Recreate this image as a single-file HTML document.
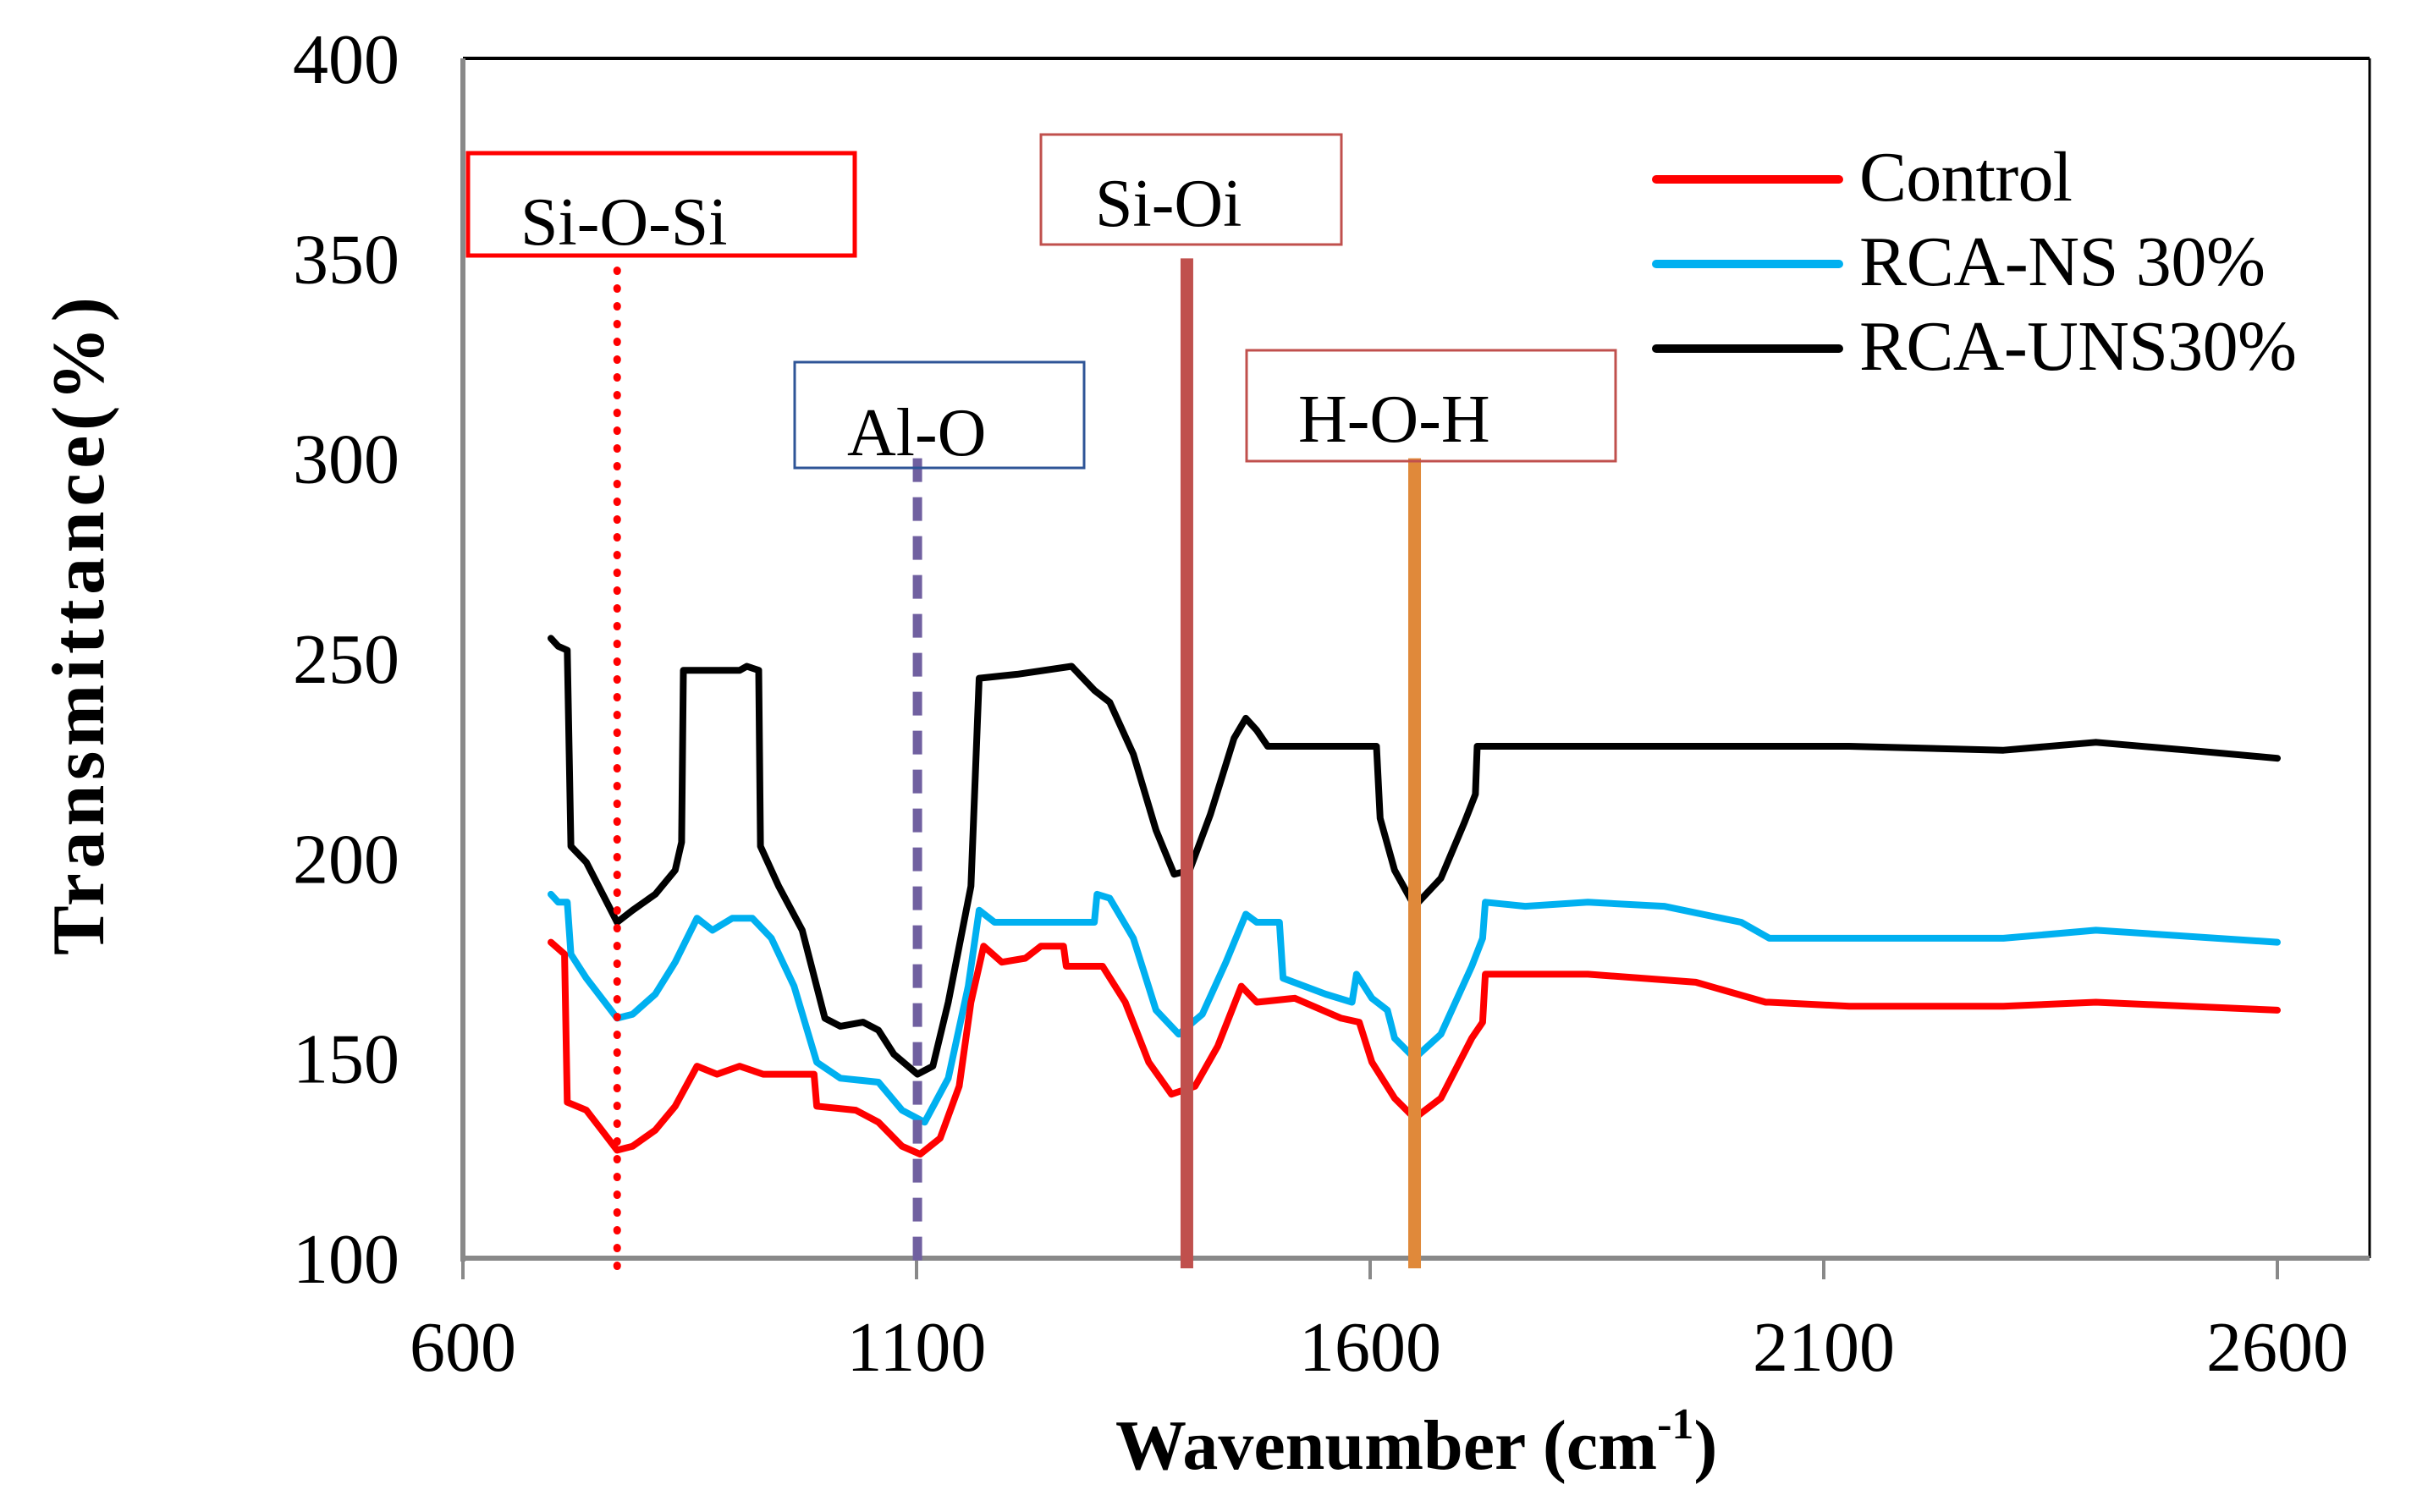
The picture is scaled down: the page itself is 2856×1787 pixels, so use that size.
<!DOCTYPE html>
<html><head><meta charset="utf-8"><style>
html,body{margin:0;padding:0;background:#fff;}
svg{display:block;font-family:"Liberation Serif",serif;}
</style></head><body>
<svg id="chart" width="2856" height="1787" viewBox="0 0 2856 1787">
<g id="plot"></g>
</svg>
<script>
const xTicks=[600,1100,1600,2100,2600];
const yTicks=[100,150,200,250,300,350,400];
const seriesNames=["Control","RCA-NS 30%","RCA-UNS30%"];
const seriesColors=["#FF0000","#00B0F0","#000000"];
const uns_x=[697,705,715,719,736,770,787,812,834,841,843,905,913,926,928,948,974,999,1016,1041,1058,1075,1101,1118,1135,1160,1169,1211,1271,1296,1313,1339,1364,1384,1401,1424,1450,1463,1475,1487,1568,1607,1611,1627,1649,1678,1704,1716,1718,1789,1959,2128,2298,2400,2502,2600];
const uns_y=[255,253,252,203,199,184,187,191,197,204,247,247,248,247,203,193,182,160,158,159,157,151,146,148,164,193,245,246,248,242,239,226,207,196,197,211,230,235,232,228,228,228,210,197,188,195,209,216,228,228,228,228,227,229,227,225];
const ns_x=[697,705,715,719,736,770,787,812,834,858,875,897,919,940,965,990,1016,1058,1084,1109,1135,1157,1169,1186,1296,1299,1313,1339,1364,1389,1415,1441,1463,1475,1500,1504,1551,1580,1585,1602,1619,1627,1649,1678,1712,1724,1727,1771,1840,1924,2009,2040,2128,2298,2400,2600];
const ns_y=[191,189,189,176,170,160,161,166,174,185,182,185,185,180,168,149,145,144,137,134,145,168,187,184,184,191,190,180,162,156,161,174,186,184,184,170,166,164,171,165,162,155,150,156,173,180,189,188,189,188,184,180,180,180,182,179];
const ctl_x=[697,712,715,736,753,770,787,812,834,858,880,905,931,987,990,1033,1058,1084,1104,1126,1147,1160,1174,1194,1220,1237,1262,1265,1305,1330,1356,1381,1407,1432,1458,1475,1517,1568,1588,1602,1627,1649,1678,1712,1724,1727,1771,1840,1959,2036,2040,2128,2298,2400,2600];
const ctl_y=[179,176,139,137,132,127,128,132,138,148,146,148,146,146,138,137,134,128,126,130,143,164,178,174,175,178,178,173,173,164,149,141,143,153,168,164,165,160,159,149,140,135,140,155,159,171,171,171,169,164,164,163,163,164,162];
const markerX=[770,1101,1398,1649];
const markerTop=[347,300,350,300];
const markerNames=["si-o-si-marker","al-o-marker","si-oi-marker","h-o-h-marker"];

const NS="http://www.w3.org/2000/svg";
const g=document.getElementById('plot');
const X0=547,X1=2691,Y0=1487,Y1=69,XR=2800;
function sx(v){return X0+(v-600)*(X1-X0)/2000;}
function sy(v){return Y0-(v-100)*(Y0-Y1)/300;}
function mk(tag,attrs,parent){const e=document.createElementNS(NS,tag);for(const k in attrs)e.setAttribute(k,attrs[k]);(parent||g).appendChild(e);return e;}

let e=mk('line',{x1:X0,y1:Y1,x2:XR,y2:Y1,stroke:'#000','stroke-width':4});


e=mk('line',{x1:XR,y1:Y1,x2:XR,y2:Y0,stroke:'#000','stroke-width':3});


e=mk('line',{x1:X0,y1:Y1,x2:X0,y2:Y0+4,stroke:'#898989','stroke-width':6});



yTicks.forEach(t=>{
  const l=mk('text',{x:472,y:sy(t)+29,'text-anchor':'end','font-size':84});
  l.textContent=t;
  
  
});
xTicks.forEach(t=>{
  const tk=mk('line',{x1:sx(t),y1:Y0,x2:sx(t),y2:Y0+25,stroke:'#898989','stroke-width':4});
  
  
  const l=mk('text',{x:sx(t),y:1620,'text-anchor':'middle','font-size':84});
  l.textContent=t;
  
  
});

const sdata=[[ctl_x,ctl_y],[ns_x,ns_y],[uns_x,uns_y]];
const snames=['control-line','rca-ns-30-line','rca-uns-30-line'];
[2,1,0].forEach(i=>{
  const [xs,ys]=sdata[i];
  const d=xs.map((x,j)=>(j?'L':'M')+sx(x).toFixed(1)+' '+sy(ys[j]).toFixed(1)).join(' ');
  const p=mk('path',{d:d,fill:'none',stroke:seriesColors[i],'stroke-width':8,'stroke-linejoin':'round','stroke-linecap':'round'});
  
  
});

e=mk('line',{x1:X0-3,y1:Y0,x2:XR,y2:Y0,stroke:'#898989','stroke-width':6});



const mstyles=[
 {stroke:'#FF0000','stroke-width':9,'stroke-dasharray':'1 20','stroke-linecap':'round'},
 {stroke:'#7060A0','stroke-width':11,'stroke-dasharray':'28 18'},
 {stroke:'#C0504D','stroke-width':15},
 {stroke:'#E0893A','stroke-width':15}
];
markerX.forEach((m,i)=>{
  const a={x1:sx(m),x2:sx(m),y1:sy(markerTop[i]),y2:Y0+12};
  Object.assign(a,mstyles[i]);
  const l=mk('line',a);
  
  
});
</script>

<svg style="position:absolute;left:0;top:0" width="2856" height="1787" viewBox="0 0 2856 1787" font-family="Liberation Serif, serif">
  <g>
    <rect x="553" y="181" width="457" height="121" fill="none" stroke="#FF0000" stroke-width="5"/>
    <text x="615" y="289" font-size="80">Si-O-Si</text>
  </g>
  <g>
    <rect x="939" y="428" width="342" height="125" fill="none" stroke="#2F5597" stroke-width="3"/>
    <text x="1001" y="538" font-size="80">Al-O</text>
  </g>
  <g>
    <rect x="1230" y="159" width="355" height="130" fill="none" stroke="#C0504D" stroke-width="3"/>
    <text x="1294" y="267" font-size="80">Si-Oi</text>
  </g>
  <g>
    <rect x="1473" y="414" width="436" height="131" fill="none" stroke="#C0504D" stroke-width="3"/>
    <text x="1534" y="522" font-size="80">H-O-H</text>
  </g>
  <g>
    <g>
      <line x1="1957" y1="212" x2="2173" y2="212" stroke="#FF0000" stroke-width="10" stroke-linecap="round"/>
      <text x="2197" y="237" font-size="84" textLength="252">Control</text>
    </g>
    <g>
      <line x1="1957" y1="312" x2="2173" y2="312" stroke="#00B0F0" stroke-width="10" stroke-linecap="round"/>
      <text x="2197" y="337" font-size="84" textLength="480">RCA-NS 30%</text>
    </g>
    <g>
      <line x1="1957" y1="412" x2="2173" y2="412" stroke="#000" stroke-width="10" stroke-linecap="round"/>
      <text x="2197" y="437" font-size="84" textLength="517">RCA-UNS30%</text>
    </g>
  </g>
  <text transform="translate(122,740) rotate(-90)" text-anchor="middle" font-size="88" font-weight="bold" textLength="778">Transmittance(%)</text>
  <text x="1318" y="1736" font-size="84" font-weight="bold">Wavenumber (cm<tspan font-size="52" dy="-36">-1</tspan><tspan dy="36">)</tspan></text>
</svg>
</body></html>
